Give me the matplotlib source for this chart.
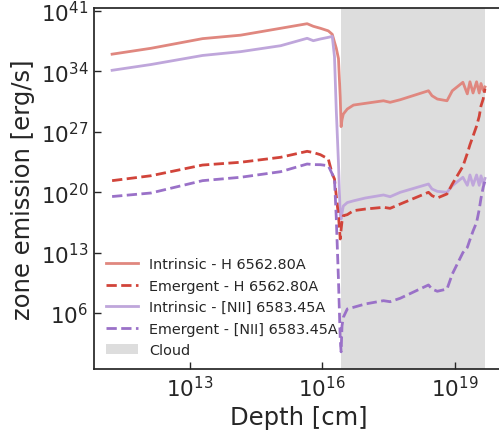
import numpy as np
import matplotlib
matplotlib.use("Agg")
import matplotlib.pyplot as plt
from matplotlib.ticker import FixedLocator, NullLocator, LogFormatterMathtext

# depth grid (log10 of depth in cm)
depth_log = [11.24, 12.12, 13.29, 14.15, 15.06, 15.66, 15.80, 15.96, 16.14, 16.23,
             16.28, 16.32, 16.37, 16.41, 16.43, 16.45, 16.48, 16.57, 16.71, 16.98,
             17.39, 17.54, 17.77, 18.41, 18.49, 18.61, 18.83, 18.95, 19.19, 19.29,
             19.35, 19.42, 19.50, 19.56, 19.60, 19.65, 19.69]

# zone emission, log10 erg/s
h_intrinsic_log = [36.00, 36.68, 37.80, 38.20, 39.00, 39.53, 39.23, 39.00, 38.70, 38.30,
                   37.40, 36.70, 35.50, 31.00, 27.60, 28.40, 29.06, 29.64, 30.10, 30.30,
                   30.60, 30.42, 30.72, 31.76, 31.18, 30.80, 30.60, 31.76, 32.74, 31.40,
                   32.80, 31.50, 32.80, 31.50, 32.60, 31.80, 32.20]
h_emergent_log = [21.34, 21.91, 23.15, 23.47, 24.05, 24.74, 24.60, 24.35, 23.85, 22.10,
                  21.53, 19.60, 17.28, 14.58, 15.70, 16.60, 17.28, 17.40, 17.86, 18.05,
                  18.25, 18.13, 18.63, 19.99, 19.60, 19.33, 19.80, 20.95, 23.00, 24.50,
                  25.50, 26.50, 27.67, 28.80, 30.00, 30.80, 32.00]
nii_intrinsic_log = [34.13, 34.80, 35.85, 36.29, 36.98, 37.84, 37.56, 37.76, 37.95, 38.06,
                     35.70, 29.56, 23.40, 17.30, 16.90, 17.60, 18.40, 18.80, 19.00, 19.33,
                     19.68, 19.48, 19.99, 20.95, 20.37, 20.10, 19.99, 20.76, 21.73, 20.80,
                     22.00, 20.80, 22.00, 20.80, 21.90, 21.00, 21.60]
nii_emergent_log = [19.50, 19.91, 21.34, 21.73, 22.38, 23.27, 23.20, 23.19, 23.07, 22.10,
                    21.50, 17.10, 9.86, 3.00, 1.50, 4.50, 5.50, 6.47, 6.66, 7.05,
                    7.43, 7.31, 7.71, 9.25, 8.78, 8.52, 8.78, 10.52, 13.00, 13.60,
                    14.50, 15.50, 16.50, 18.00, 19.30, 20.57, 21.30]

cloud_log = [16.42, 19.69]

labels = ["Intrinsic - H 6562.80A", "Emergent - H 6562.80A",
          "Intrinsic - [NII] 6583.45A", "Emergent - [NII] 6583.45A", "Cloud"]

depth = 10.0 ** np.array(depth_log)

fig = plt.figure(figsize=(4.99, 4.35), dpi=100)
ax = fig.add_axes([0.1884, 0.1494, 0.8206, 0.8299])

ink = "#262626"
ax.axvspan(10 ** cloud_log[0], 10 ** cloud_log[1], color="#dddddd", lw=0,
           label=labels[4], zorder=0)

ax.plot(depth, 10.0 ** np.array(h_intrinsic_log), color="#e0877f", lw=2.0,
        label=labels[0], zorder=2)
ax.plot(depth, 10.0 ** np.array(h_emergent_log), color="#d1443a", lw=2.0,
        ls="--", label=labels[1], zorder=3)
ax.plot(depth, 10.0 ** np.array(nii_intrinsic_log), color="#bfa6db", lw=2.0,
        label=labels[2], zorder=2)
ax.plot(depth, 10.0 ** np.array(nii_emergent_log), color="#9a71c8", lw=2.0,
        ls="--", label=labels[3], zorder=3)

ax.set_xscale("log")
ax.set_yscale("log")
ax.set_xlim(10 ** 10.83, 10 ** 20.11)
ax.set_ylim(10 ** -0.49, 10 ** 41.35)

ax.xaxis.set_major_locator(FixedLocator([1e13, 1e16, 1e19]))
ax.yaxis.set_major_locator(FixedLocator([1e6, 1e13, 1e20, 1e27, 1e34, 1e41]))
ax.xaxis.set_major_formatter(LogFormatterMathtext())
ax.yaxis.set_major_formatter(LogFormatterMathtext())
ax.xaxis.set_minor_locator(NullLocator())
ax.yaxis.set_minor_locator(NullLocator())

ax.tick_params(axis="both", which="major", direction="in", length=5, width=1,
               color=ink, labelcolor=ink, labelsize=15.5, pad=4)
for sp in ax.spines.values():
    sp.set_color(ink)
    sp.set_linewidth(1.25)

ax.set_xlabel("Depth [cm]", fontsize=17.5, color=ink, labelpad=4)
ax.set_ylabel("zone emission [erg/s]", fontsize=17.5, color=ink, labelpad=4)

handles, labs = ax.get_legend_handles_labels()
order = [labs.index(l) for l in labels]
leg = ax.legend([handles[i] for i in order], [labs[i] for i in order],
                loc="lower left", bbox_to_anchor=(0.015, 0.017), borderaxespad=0,
                frameon=False, fontsize=10.4, handlelength=2.2,
                labelspacing=0.52, handletextpad=0.8)
for t in leg.get_texts():
    t.set_color(ink)

fig.savefig("out.png", dpi=100)
